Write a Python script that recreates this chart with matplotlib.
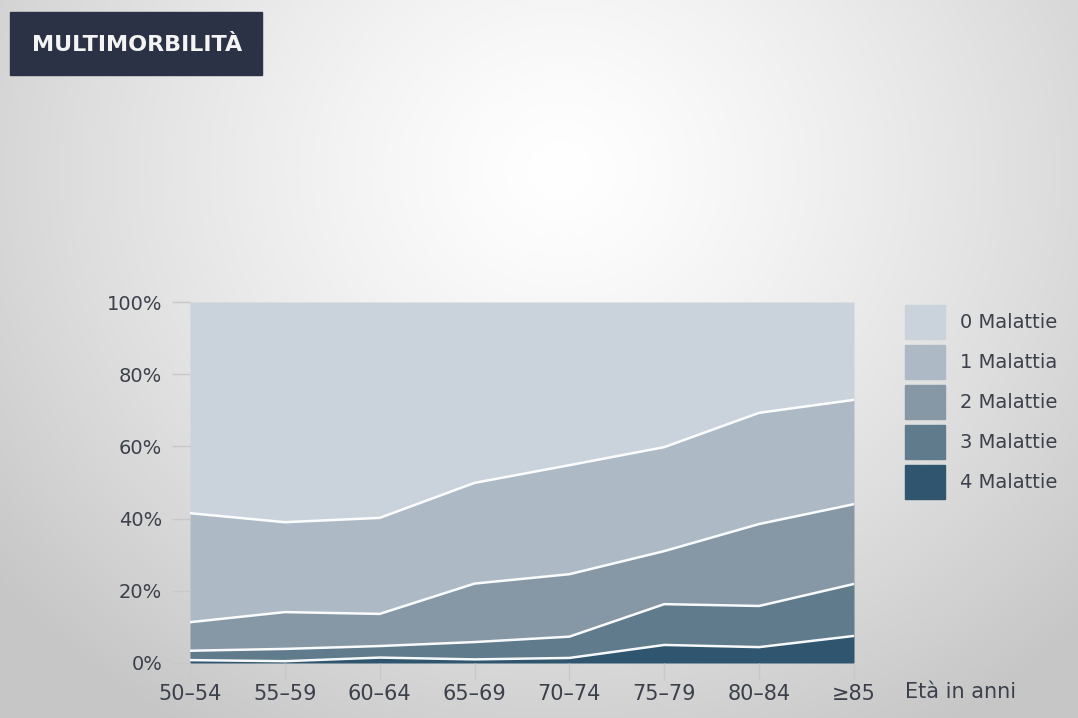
import numpy as np
import matplotlib
matplotlib.use("Agg")
import matplotlib.pyplot as plt
from matplotlib.patches import Rectangle

categories = ["50–54", "55–59", "60–64", "65–69", "70–74", "75–79", "80–84", "≥85"]
m4 = [0.8, 0.5, 1.5, 1.0, 1.4, 5.0, 4.4, 7.5]
m3 = [2.6, 3.4, 3.2, 4.8, 5.9, 11.3, 11.4, 14.4]
m2 = [7.9, 10.2, 8.9, 16.2, 17.3, 14.7, 22.7, 22.1]
m1 = [30.2, 24.9, 26.6, 27.9, 30.2, 28.8, 30.8, 28.9]
m0 = [100 - a - b - c - d for a, b, c, d in zip(m4, m3, m2, m1)]
series_labels = ["0 Malattie", "1 Malattia", "2 Malattie", "3 Malattie", "4 Malattie"]
yticks = [0, 20, 40, 60, 80, 100]
colors = {"0 Malattie": "#cad3dc", "1 Malattia": "#adbac6", "2 Malattie": "#8698a6",
          "3 Malattie": "#5f7b8c", "4 Malattie": "#2f566e"}

W, H = 1078, 718
fig = plt.figure(figsize=(W / 100, H / 100), dpi=100)

# radial gradient background
bg = fig.add_axes([0, 0, 1, 1], zorder=-10)
yy, xx = np.mgrid[0:H, 0:W]
cx, cy = 560, 170
r = np.sqrt(((xx - cx) / 1.0) ** 2 + ((yy - cy) / 0.9) ** 2)
t = np.clip(r / 720, 0, 1)
val = 1.0 - 0.22 * t ** 1.3
img = np.dstack([val, val, val])
bg.imshow(img, extent=[0, W, H, 0], aspect="auto")
bg.set_xlim(0, W); bg.set_ylim(H, 0)
bg.axis("off")

# title box
bg.add_patch(Rectangle((10, 12), 252, 63, color="#2b3246", zorder=2))
bg.text(32, 45, "MULTIMORBILITÀ", color="#f4f4f4", fontsize=16, fontweight="bold",
        family="DejaVu Sans", va="center", ha="left", zorder=3)

ax = fig.add_axes([190 / W, 1 - 663 / H, (854 - 190) / W, (663 - 302) / H])
x = np.arange(len(categories))
stack = [m4, m3, m2, m1, m0]
names = ["4 Malattie", "3 Malattie", "2 Malattie", "1 Malattia", "0 Malattie"]
base = np.zeros(len(categories))
for vals, name in zip(stack, names):
    top = base + np.array(vals)
    ax.fill_between(x, base, top, color=colors[name], lw=0, zorder=1)
    base = top
base = np.zeros(len(categories))
for vals, name in zip(stack[:-1], names[:-1]):
    base = base + np.array(vals)
    ax.plot(x, base, color="white", lw=1.8, zorder=3, alpha=0.95)

ax.set_xlim(0, len(categories) - 1)
ax.set_ylim(0, 100)
for s in ax.spines.values():
    s.set_visible(False)
ax.set_xticks(x)
ax.set_xticklabels(categories)
ax.set_yticks(yticks)
ax.set_yticklabels([f"{v}%" for v in yticks])
ax.tick_params(axis="x", length=12, width=1, color="#c8c8c8", labelsize=15,
               labelcolor="#3b404b", pad=3)
ax.tick_params(axis="y", length=13, width=1, color="#c8c8c8", labelsize=14,
               labelcolor="#3b404b", pad=7)
ax.set_facecolor("none")

fig.text(905 / W, 1 - 692 / H, "Età in anni", fontsize=15, color="#3b404b",
         ha="left", va="center")

# legend
for i, name in enumerate(series_labels):
    ytop = 305 + i * 40
    bg.add_patch(Rectangle((905, ytop), 40, 34, color=colors[name], zorder=2))
    bg.text(960, ytop + 18, name, fontsize=14, color="#3b404b", va="center",
            ha="left", zorder=3)

fig.savefig("out.png", dpi=100)
